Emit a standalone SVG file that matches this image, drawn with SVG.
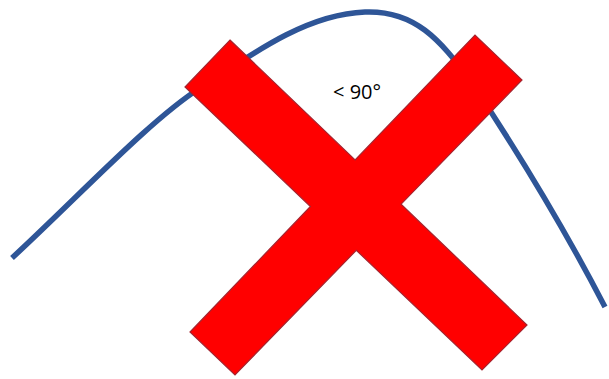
<svg xmlns="http://www.w3.org/2000/svg" width="609" height="379" viewBox="0 0 609 379">
<style>
.curve{fill:none;stroke:#2E5597;stroke-width:5.5;stroke-linecap:butt;stroke-linejoin:round}
.cross{fill:#FF0000;stroke:#A5242F;stroke-width:1.2;stroke-linejoin:miter}
.lbl{font-family:"Open Sans","Liberation Sans",Arial,sans-serif;font-size:20px;fill:#000}
</style>
<rect width="609" height="379" fill="#FFFFFF"/>
<g id="connectors">
<path id="curve" class="curve" d="M12,258 C80,195 150,120 200,88 C260,48 310,14 365,12 C415,10 440,40 470,80 C510,140 560,220 605,307"/>
</g>
<g id="label">
<text class="lbl" x="333" y="99">&lt; 90°</text>
</g>
<g id="cross">
<path class="cross" d="M230,40 L355.1,160 L475,35 L522,80 L401.1,204.2 L527,325 L482,370 L356.3,250.3 L235,375 L190,332 L310.4,206.5 L185,87 Z"/>
</g>
</svg>
